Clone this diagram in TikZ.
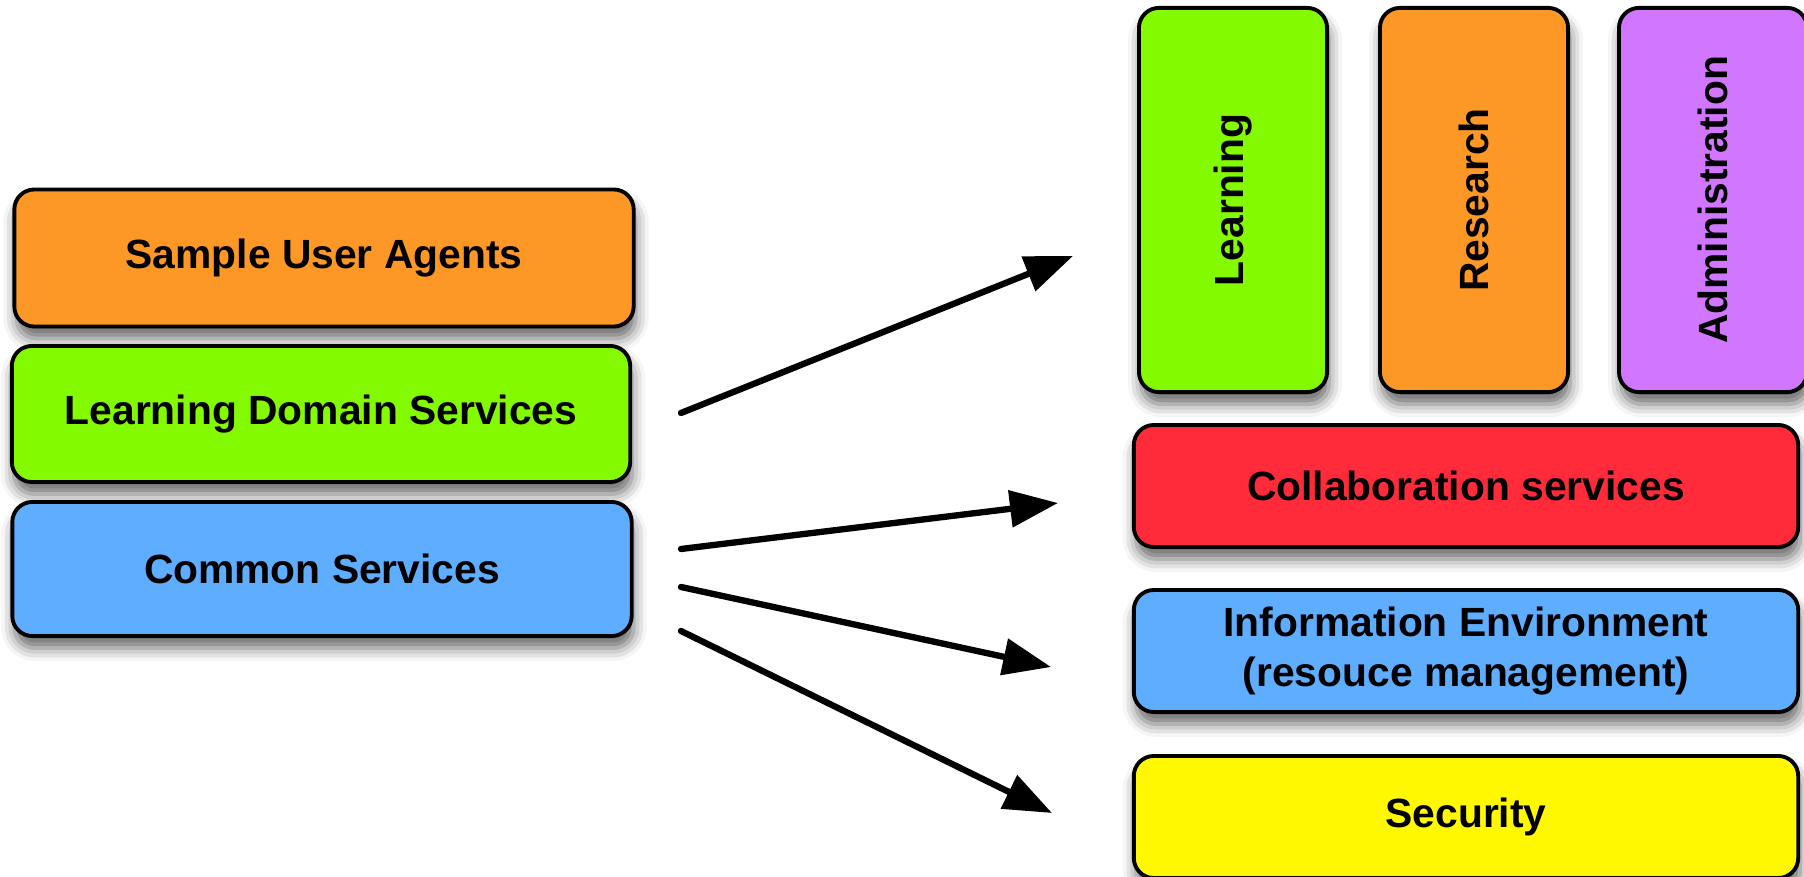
\documentclass[tikz,border=0pt]{standalone}
\usepackage{fontspec}
\setmainfont{Liberation Sans}
\usepackage{tikz}
\usetikzlibrary{positioning, arrows.meta, shadows.blur}

\definecolor{agentorange}{RGB}{253,152,38}
\definecolor{domaingreen}{RGB}{132,250,0}
\definecolor{commonblue}{RGB}{94,173,255}
\definecolor{adminpurple}{RGB}{209,119,255}
\definecolor{collabred}{RGB}{255,43,58}
\definecolor{securityyellow}{RGB}{255,248,0}

\tikzset{
  layer/.style={draw=black, line width=1.1pt, rounded corners=0.2cm, align=center, inner sep=0pt,
    blur shadow={shadow xshift=0.02cm, shadow yshift=-0.12cm, shadow blur radius=0.13cm, shadow opacity=60},
    font=\fontsize{11.6}{14}\selectfont\bfseries},
  wide/.style={minimum width=6.64cm, minimum height=1.22cm},
  flow/.style={line width=1.8pt, line cap=round, -{Triangle[length=0.48cm, width=0.36cm]}}
}

\begin{document}
\begin{tikzpicture}[x=0.01cm, y=-0.01cm]
    \useasboundingbox (0,0) rectangle (1804,877);

    % Left stack
    \node[layer, fill=agentorange, minimum width=6.19cm, minimum height=1.37cm] (agents) at (324,258) {Sample User Agents};
    \node[layer, fill=domaingreen, minimum width=6.18cm, minimum height=1.36cm] (domain) at (321,414) {Learning Domain Services};
    \node[layer, fill=commonblue, minimum width=6.19cm, minimum height=1.34cm] (common) at (322,569) {Common Services};

    % Top columns
    \foreach \n/\x/\c/\t in {learn/1233/domaingreen/Learning, research/1474/agentorange/Research, admin/1713/adminpurple/Administration} {
      \node[layer, fill=\c, minimum width=1.88cm, minimum height=3.84cm] (\n) at (\x,200) {\rotatebox{90}{\t}};
    }

    % Right stack
    \node[layer, fill=collabred, wide] (collab) at (1466,486) {Collaboration services};
    \node[layer, fill=commonblue, wide] (info) at (1466,651) {Information Environment\\(resouce management)};
    \node[layer, fill=securityyellow, wide] (security) at (1466,817) {Security};

    % Arrow ends
    \coordinate (s1) at (681,413);
    \coordinate (s2) at (681,549);
    \coordinate (s3) at (681,587);
    \coordinate (s4) at (681,631);
    \coordinate (t1) at (1073,256);
    \coordinate (t2) at (1058,503);
    \coordinate (t3) at (1051,667);
    \coordinate (t4) at (1052,813);

    \foreach \i in {1,...,4} {
      \draw[flow] (s\i) -- (t\i);
    }
\end{tikzpicture}
\end{document}
